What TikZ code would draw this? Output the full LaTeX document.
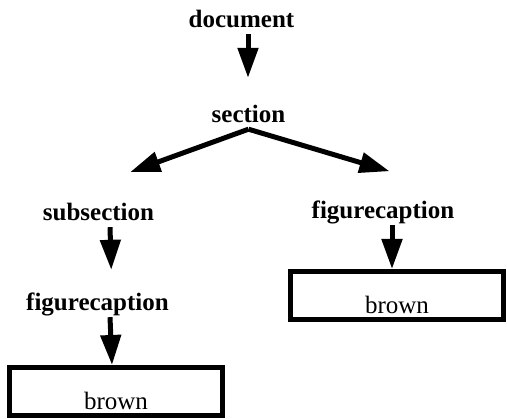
\documentclass[tikz,border=0pt]{standalone}
\usepackage{fontspec}
\setmainfont{Liberation Serif}
\usepackage{tikz}
\usetikzlibrary{positioning,arrows.meta,calc}

\tikzset{
  lbl/.style={font=\bfseries\fontsize{25}{30}\selectfont, inner sep=0pt, anchor=base, text height=17pt, text depth=6pt},
  leafbox/.style={draw, line width=5pt, outer sep=2.5pt, inner sep=0pt, minimum width=213pt, minimum height=48pt,
    font=\fontsize{25}{30}\selectfont, text height=37pt, text depth=0pt},
  arr/.style={-{Triangle[length=30pt,width=20pt]}, line width=5pt}
}

\begin{document}
\begin{tikzpicture}[x=1pt,y=-1pt]
\useasboundingbox (0,0) rectangle (507,419);
% Labels
\node[lbl] (doc) at (241.5,28) {document};
\node[lbl] (sec) at (248.5,123) {section};
\node[lbl] (sub) at (98.5,221) {subsection};
\node[lbl] (figl) at (97.5,311) {figurecaption};
\node[lbl] (figr) at (383,219) {figurecaption};

% Boxes
\node[leafbox] (boxl) at (116,391.5) {brown};
\node[leafbox] (boxr) at (397,295.5) {brown};

% Arrows
\draw[arr, shorten >=28pt] ([xshift=6.5pt]doc.south) -- ([xshift=-0.5pt]sec.north);
\draw[arr, shorten >=93pt] (sec.south) -- (sub.north west);
\draw[arr, shorten >=107pt] (sec.south) -- ([xshift=109pt]figr.north);
\draw[arr, shorten >=24pt] ([xshift=11.5pt]sub.south) -- ([xshift=14.5pt]figl.north);
\draw[arr] ([xshift=12.5pt]figl.south) -- ([xshift=-4pt]boxl.north);
\draw[arr] ([xshift=9pt]figr.south) -- ([xshift=-5pt]boxr.north);
\end{tikzpicture}
\end{document}
